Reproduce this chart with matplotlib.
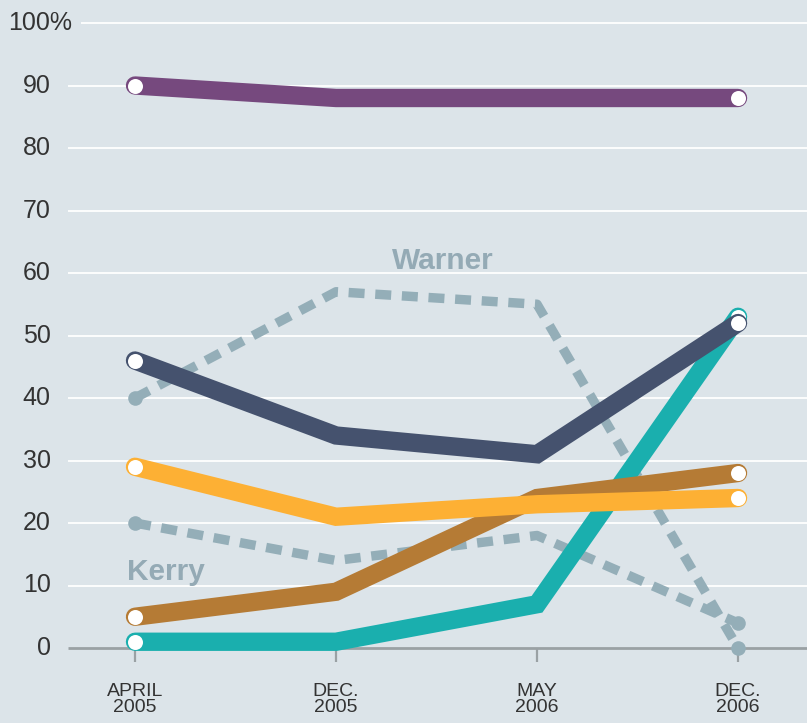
import matplotlib
matplotlib.use("Agg")
import matplotlib.pyplot as plt

# ---- data ----
periods = ["APRIL\n2005", "DEC.\n2005", "MAY\n2006", "DEC.\n2006"]
y_ticks = [0, 10, 20, 30, 40, 50, 60, 70, 80, 90, 100]
y_tick_labels = ["0", "10", "20", "30", "40", "50", "60", "70", "80", "90", "100"]

purple = [90, 88, 88, 88]
navy = [46, 34, 31, 52]
yellow = [29, 21, 23, 24]
brown = [5, 9, 24, 28]
teal = [1, 1, 7, 53]
warner = [40, 57, 55, 0]
kerry = [20, 14, 18, 4]

plt.rcParams['lines.scale_dashes'] = False

BG = "#dce4e9"
fig = plt.figure(figsize=(8.07, 7.23), dpi=100, facecolor=BG)
ax = fig.add_axes([0, 0, 1, 1])
ax.set_facecolor(BG)
for s in ax.spines.values():
    s.set_visible(False)
ax.set_xticks([])
ax.set_yticks([])

# pixel mapping: x index 0 -> 135px, 3 -> 738px ; y 0 -> 648px from top, 100 -> 23px
ax.set_xlim(-0.6716, 3.343)
ax.set_ylim(-12, 103.68)

xs = list(range(len(periods)))

# gridlines
for v in y_ticks[1:]:
    x0 = -0.269 if v == 100 else -0.333
    ax.plot([x0, 3.343], [v, v], color="white", lw=1.3, zorder=1, solid_capstyle="butt")
# zero axis
ax.plot([-0.333, 3.343], [0, 0], color="#9aa1a4", lw=2.0, zorder=1.5, solid_capstyle="butt")
for x in xs:
    ax.plot([x, x], [0, -2.2], color="#9aa1a4", lw=1.6, zorder=1.5, solid_capstyle="butt")

# y labels
for v, lab in zip(y_ticks, y_tick_labels):
    if v == 100:
        ax.text(-0.312, v, lab + "%", ha="right", va="center", fontsize=18,
                family="Liberation Sans", color="#333333")
    else:
        ax.text(-0.42, v, lab, ha="right", va="center", fontsize=18,
                family="Liberation Sans", color="#333333")

# x labels
for x, lab in zip(xs, periods):
    ax.text(x, -5.6, lab, ha="center", va="top", fontsize=14, family="Liberation Sans",
            color="#333333", linespacing=0.9)

# dashed series
DG = "#94aeb8"
for ser, z in [(warner, 2), (kerry, 2)]:
    ax.plot(xs, ser, color=DG, lw=6.8, linestyle=(0, (11.5, 7.7)),
            dash_capstyle="butt", zorder=z)
    ax.plot([xs[0], xs[-1]], [ser[0], ser[-1]], "o", color=DG, ms=10.5, mew=0, zorder=z)

# solid series
LW = 13.2
for ser, col, z in [(teal, "#1aafae", 3), (brown, "#b57b35", 4), (yellow, "#fdb034", 5),
                    (navy, "#45526e", 6), (purple, "#76497e", 6)]:
    ax.plot(xs, ser, color=col, lw=LW, solid_capstyle="round", solid_joinstyle="miter", zorder=z)
    ax.plot([xs[0], xs[-1]], [ser[0], ser[-1]], "o", color="white", ms=10.8, mew=0, zorder=z + 0.1)

# labels
ax.text(1.53, 62.0, "Warner", ha="center", va="center", fontsize=21.5, fontweight="bold",
        family="Liberation Sans", color="#94aab5", zorder=7)
ax.text(-0.04, 12.2, "Kerry", ha="left", va="center", fontsize=21.5, fontweight="bold",
        family="Liberation Sans", color="#94aab5", zorder=7)

fig.savefig("out.png", dpi=100, facecolor=BG)
